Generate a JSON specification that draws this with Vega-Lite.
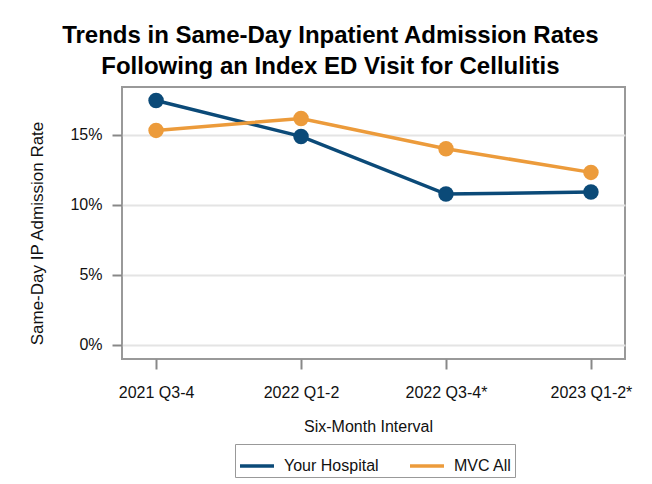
{
  "$schema": "https://vega.github.io/schema/vega-lite/v6.json",
  "width": 503,
  "height": 272,
  "autosize": {"type": "none"},
  "padding": {"left": 122, "top": 87, "right": 27, "bottom": 125},
  "background": "white",
  "title": {
    "text": ["Trends in Same-Day Inpatient Admission Rates", "Following an Index ED Visit for Cellulitis"],
    "font": "Liberation Sans",
    "fontSize": 24,
    "fontWeight": "bold",
    "lineHeight": 31,
    "anchor": "middle",
    "frame": "bounds",
    "offset": 8,
    "color": "#000000"
  },
  "data": {
    "values": [
      {"interval": "2021 Q3-4", "series": "Your Hospital", "rate": 0.1745},
      {"interval": "2022 Q1-2", "series": "Your Hospital", "rate": 0.1488},
      {"interval": "2022 Q3-4*", "series": "Your Hospital", "rate": 0.1076},
      {"interval": "2023 Q1-2*", "series": "Your Hospital", "rate": 0.1091},
      {"interval": "2021 Q3-4", "series": "MVC All", "rate": 0.1531},
      {"interval": "2022 Q1-2", "series": "MVC All", "rate": 0.1616},
      {"interval": "2022 Q3-4*", "series": "MVC All", "rate": 0.1400},
      {"interval": "2023 Q1-2*", "series": "MVC All", "rate": 0.1231}
    ]
  },
  "encoding": {
    "x": {
      "field": "interval",
      "type": "ordinal",
      "sort": null,
      "scale": {"type": "point", "padding": 0.235},
      "axis": {
        "title": "Six-Month Interval",
        "labelAngle": 0,
        "labelPadding": 15,
        "titlePadding": 18,
        "titleX": 246,
        "grid": false
      }
    },
    "y": {
      "field": "rate",
      "type": "quantitative",
      "scale": {"domain": [-0.0102, 0.1841], "nice": false, "zero": false},
      "axis": {
        "title": "Same-Day IP Admission Rate",
        "titleFontSize": 17,
        "values": [0, 0.05, 0.1, 0.15],
        "format": ".0%",
        "labelPadding": 10,
        "titlePadding": 23,
        "titleY": 146,
        "grid": true
      }
    },
    "color": {
      "field": "series",
      "type": "nominal",
      "scale": {"domain": ["Your Hospital", "MVC All"], "range": ["#0b4a78", "#ec9b3b"]},
      "legend": {
        "title": null,
        "orient": "none",
        "legendX": 113,
        "legendY": 357,
        "direction": "horizontal",
        "strokeColor": "#999999",
        "padding": 3,
        "symbolType": "stroke",
        "symbolSize": 1156,
        "symbolStrokeWidth": 3.5,
        "labelFont": "Liberation Sans",
        "labelFontSize": 16,
        "labelColor": "#111111",
        "labelOffset": 8,
        "columnPadding": 24
      }
    }
  },
  "layer": [
    {"mark": {"type": "line", "strokeWidth": 3.5}},
    {"mark": {"type": "circle", "size": 240, "opacity": 1}}
  ],
  "config": {
    "font": "Liberation Sans",
    "view": {"stroke": "#999999", "strokeWidth": 2},
    "axis": {
      "domain": false,
      "tickColor": "#888888",
      "tickWidth": 2,
      "tickSize": 10,
      "labelFont": "Liberation Sans",
      "labelFontSize": 16,
      "labelColor": "#111111",
      "titleFont": "Liberation Sans",
      "titleFontSize": 16,
      "titleFontWeight": "normal",
      "titleColor": "#111111",
      "gridColor": "#e4e4e4",
      "gridWidth": 2
    }
  }
}
